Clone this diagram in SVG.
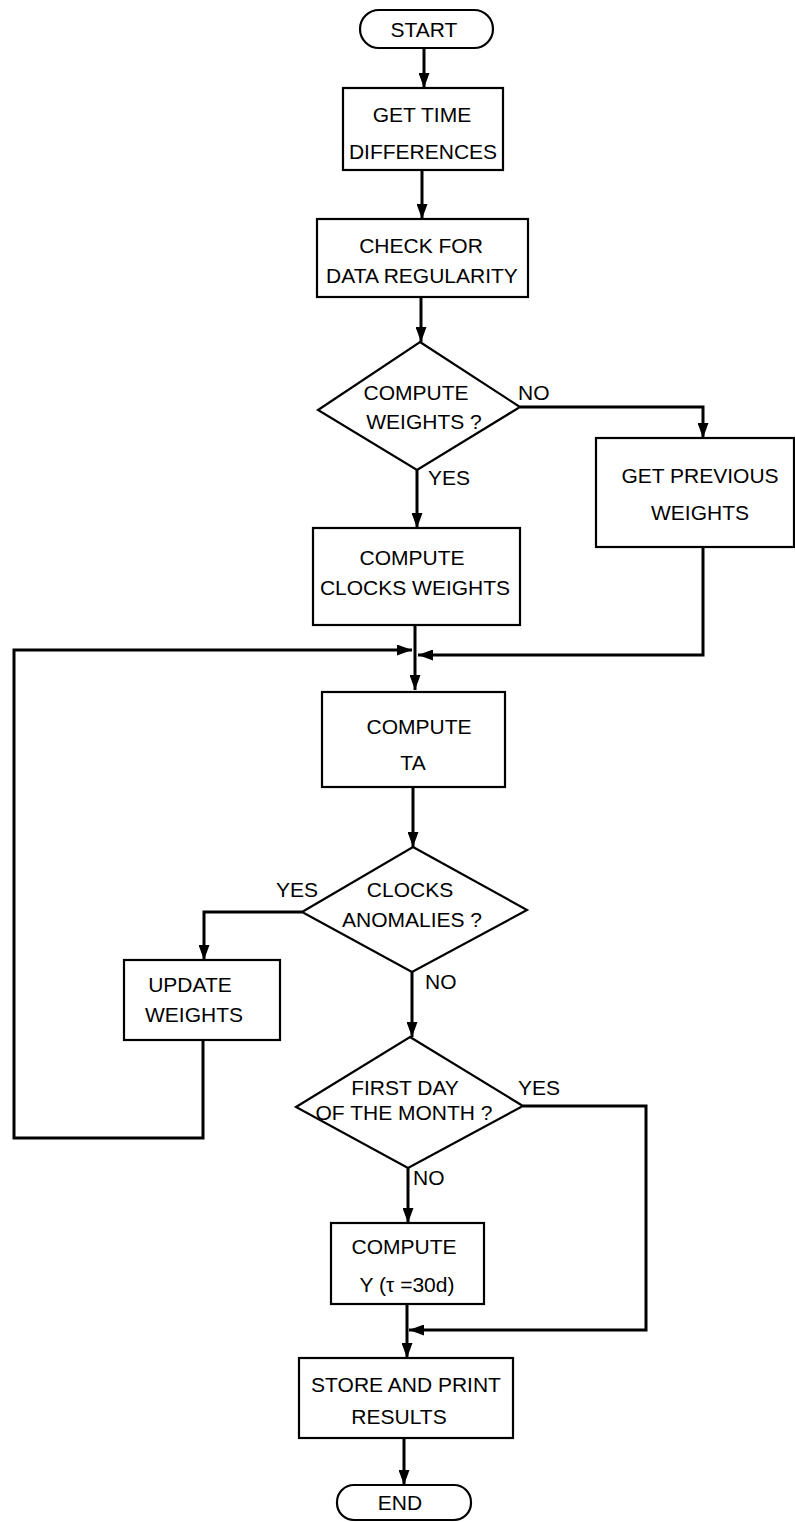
<svg xmlns="http://www.w3.org/2000/svg" width="795" height="1522" viewBox="0 0 795 1522">
<style>
.box{fill:#fff;stroke:#000;stroke-width:2.2}
.t{font-family:"Liberation Sans",Arial,sans-serif;font-size:21px;fill:#000;text-anchor:middle}
.l{font-family:"Liberation Sans",Arial,sans-serif;font-size:21px;fill:#000}
.c{fill:none;stroke:#000;stroke-width:3;marker-end:url(#ah)}
</style>
<defs>
<marker id="ah" markerUnits="userSpaceOnUse" markerWidth="15" markerHeight="11" refX="15" refY="5.5" orient="auto">
<path d="M0,0 L15,5.5 L0,11 z" fill="#000"/>
</marker>
</defs>
<rect width="795" height="1522" fill="#fff"/>
<g id="connectors">
<path class="c" d="M424,48 V88"/>
<path class="c" d="M422,170 V219"/>
<path class="c" d="M421,297 V342"/>
<path class="c" d="M520,407 H703 V438"/>
<path class="c" d="M417,470 V528"/>
<path class="c" d="M415,625 V690"/>
<path class="c" d="M703,547 V655 H418"/>
<path class="c" d="M203,1040 V1138 H14 V650 H412"/>
<path class="c" d="M413,787 V847"/>
<path class="c" d="M302,912 H204 V960"/>
<path class="c" d="M412,972 V1037"/>
<path class="c" d="M408,1168 V1223"/>
<path class="c" d="M523,1106 H646 V1330 H409"/>
<path class="c" d="M407,1304 V1358"/>
<path class="c" d="M404,1438 V1485"/>
</g>
<g id="start">
<rect class="box" x="360" y="10" width="133" height="38" rx="19"/>
<text class="t" x="424" y="37">START</text>
</g>
<g id="get-time">
<rect class="box" x="343" y="88" width="160" height="82"/>
<text class="t" x="422" y="122">GET TIME</text>
<text class="t" x="423" y="159">DIFFERENCES</text>
</g>
<g id="check">
<rect class="box" x="317" y="219" width="211" height="78"/>
<text class="t" x="421" y="253">CHECK FOR</text>
<text class="t" x="422" y="283">DATA REGULARITY</text>
</g>
<g id="compute-weights-q">
<polygon class="box" points="420,342 520,407 417,470 318,410"/>
<text class="t" x="416" y="400">COMPUTE</text>
<text class="t" x="424" y="429">WEIGHTS ?</text>
<text class="l" x="518" y="400">NO</text>
<text class="l" x="428" y="485">YES</text>
</g>
<g id="get-previous">
<rect class="box" x="596" y="438" width="198" height="109"/>
<text class="t" x="700" y="483">GET PREVIOUS</text>
<text class="t" x="700" y="520">WEIGHTS</text>
</g>
<g id="compute-clocks-weights">
<rect class="box" x="313" y="528" width="207" height="97"/>
<text class="t" x="412" y="565">COMPUTE</text>
<text class="t" x="415" y="595">CLOCKS WEIGHTS</text>
</g>
<g id="compute-ta">
<rect class="box" x="322" y="692" width="183" height="95"/>
<text class="t" x="419" y="734">COMPUTE</text>
<text class="t" x="413" y="770">TA</text>
</g>
<g id="clocks-anomalies">
<polygon class="box" points="413,847 527,910 412,972 302,912"/>
<text class="t" x="410" y="897">CLOCKS</text>
<text class="t" x="412" y="927">ANOMALIES ?</text>
<text class="l" x="276" y="897">YES</text>
<text class="l" x="425" y="989">NO</text>
</g>
<g id="update-weights">
<rect class="box" x="124" y="960" width="156" height="80"/>
<text class="t" x="190" y="992">UPDATE</text>
<text class="t" x="194" y="1022">WEIGHTS</text>
</g>
<g id="first-day">
<polygon class="box" points="410,1037 523,1106 408,1168 296,1107"/>
<text class="t" x="405" y="1095">FIRST DAY</text>
<text class="t" x="404" y="1120">OF THE MONTH ?</text>
<text class="l" x="518" y="1095">YES</text>
<text class="l" x="413" y="1185">NO</text>
</g>
<g id="compute-y">
<rect class="box" x="331" y="1223" width="153" height="81"/>
<text class="t" x="404" y="1254">COMPUTE</text>
<text class="t" x="407" y="1292">Y (τ =30d)</text>
</g>
<g id="store-print">
<rect class="box" x="299" y="1358" width="214" height="80"/>
<text class="t" x="406" y="1392">STORE AND PRINT</text>
<text class="t" x="399" y="1424">RESULTS</text>
</g>
<g id="end">
<rect class="box" x="337" y="1485" width="134" height="35" rx="17"/>
<text class="t" x="400" y="1510">END</text>
</g>
</svg>
